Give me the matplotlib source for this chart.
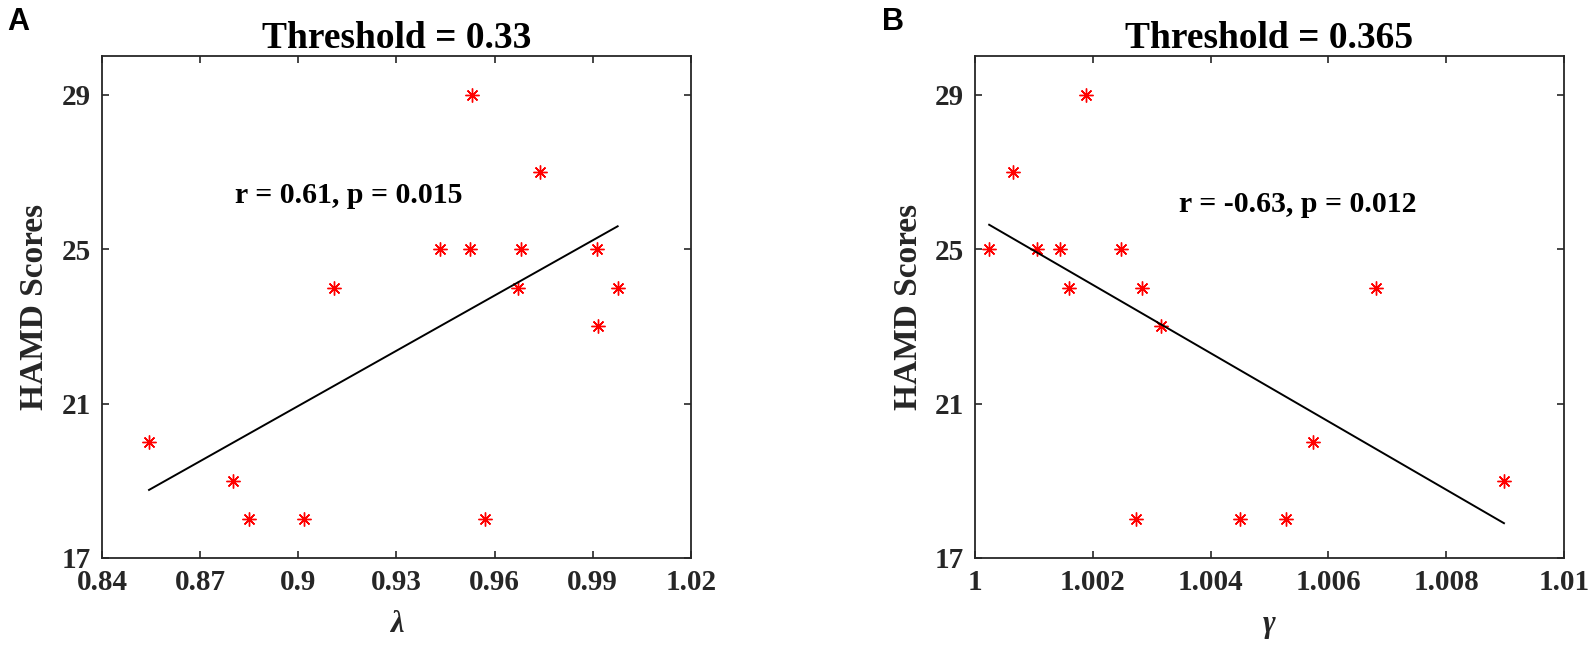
import matplotlib
matplotlib.use("Agg")
import matplotlib.pyplot as plt
import numpy as np

# panel A: lambda vs HAMD
lam = [0.8544, 0.8802, 0.8848, 0.9019, 0.9110, 0.9432, 0.9525, 0.9532,
       0.9570, 0.9672, 0.9682, 0.9740, 0.9913, 0.9916, 0.9976]
hamd_a = [20, 19, 18, 18, 24, 25, 25, 29, 18, 24, 25, 27, 25, 23, 24]

# panel B: gamma vs HAMD
gam = [1.00024, 1.00064, 1.00105, 1.00144, 1.00159, 1.00189, 1.00247, 1.00273,
       1.00284, 1.00316, 1.00450, 1.00528, 1.00573, 1.00680, 1.00898]
hamd_b = [25, 27, 25, 25, 24, 29, 25, 18, 24, 23, 18, 18, 20, 24, 19]

titles = ["Threshold = 0.33", "Threshold = 0.365"]
stats = ["r = 0.61, p = 0.015", "r = -0.63, p = 0.012"]
xlabels = ["\u03bb", "\u03b3"]
xticks_a = [0.84, 0.87, 0.9, 0.93, 0.96, 0.99, 1.02]
xticklabels_a = ["0.84", "0.87", "0.9", "0.93", "0.96", "0.99", "1.02"]
xticks_b = [1.0, 1.002, 1.004, 1.006, 1.008, 1.01]
xticklabels_b = ["1", "1.002", "1.004", "1.006", "1.008", "1.01"]
yticks = [17, 21, 25, 29]

SERIF = "Liberation Serif"
EDGE = "#262626"


def panel(ax, x, y, title, stat, stat_xy, xlabel, xticks, xticklabels, xlim):
    x = np.array(x)
    y = np.array(y)
    ax.plot(x, y, linestyle="none", marker=(8, 2, 0), color="red",
            markersize=10, markeredgewidth=1.0)
    # least squares line over the data range
    k, b = np.polyfit(x, y, 1)
    xs = np.array([x.min(), x.max()])
    ax.plot(xs, k * xs + b, color="black", linewidth=1.4)

    ax.set_xlim(*xlim)
    ax.set_ylim(17, 30)
    ax.set_xticks(xticks)
    ax.set_xticklabels(xticklabels)
    ax.set_yticks(yticks)
    ax.tick_params(direction="in", length=5, width=1.2, colors=EDGE,
                   top=True, right=True, labelsize=21, pad=8)
    for lbl in ax.get_xticklabels() + ax.get_yticklabels():
        lbl.set_fontfamily(SERIF)
        lbl.set_fontweight("bold")
        lbl.set_color(EDGE)
    for sp in ax.spines.values():
        sp.set_linewidth(1.3)
        sp.set_color(EDGE)

    ax.set_title(title, fontsize=27, fontweight="bold", family=SERIF,
                 color="black", pad=6)
    ax.set_ylabel("HAMD Scores", fontsize=24, fontweight="bold",
                  family=SERIF, color=EDGE, labelpad=8)
    ax.set_xlabel(xlabel, fontsize=22, style="italic", fontweight="bold",
                  family=SERIF, color=EDGE, labelpad=10)
    ax.text(stat_xy[0], stat_xy[1], stat, fontsize=21.5, fontweight="bold",
            family=SERIF, va="center", ha="left", color="black")


fig = plt.figure(figsize=(15.95, 6.48), dpi=100)
ax1 = fig.add_axes([0.0639, 0.1389, 0.3693, 0.7747])
ax2 = fig.add_axes([0.6113, 0.1389, 0.3693, 0.7747])

panel(ax1, lam, hamd_a, titles[0], stats[0], (0.8806, 26.4), xlabels[0],
      xticks_a, xticklabels_a, (0.84, 1.02))
panel(ax2, gam, hamd_b, titles[1], stats[1], (1.00347, 26.15), xlabels[1],
      xticks_b, xticklabels_b, (1.0, 1.01))

fig.text(18 / 1595, 1 - 22 / 648, "A", fontsize=22, fontweight="bold",
         family="Liberation Sans", va="center", ha="center")
fig.text(893 / 1595, 1 - 22 / 648, "B", fontsize=22, fontweight="bold",
         family="Liberation Sans", va="center", ha="center")

fig.savefig("out.png", dpi=100)
